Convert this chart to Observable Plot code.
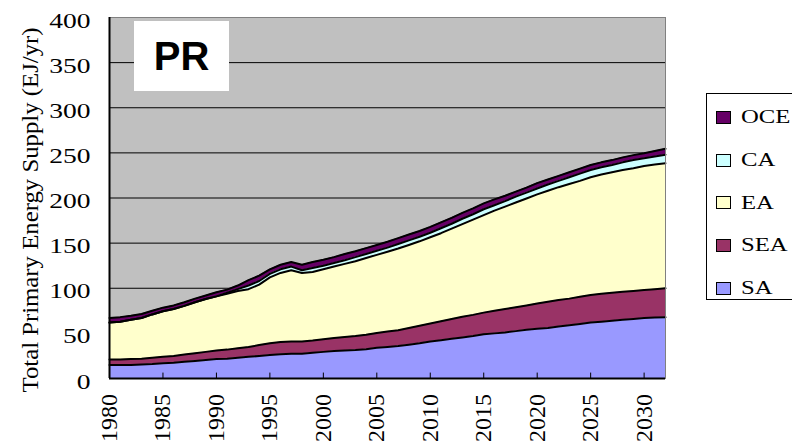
<!DOCTYPE html>
<!-- Total primary energy supply, PR scenario, revision 9 -->
<html lang="en"><head><meta charset="utf-8"><title>PR energy supply r9</title>
<script src="https://cdn.jsdelivr.net/npm/d3@7"></script>
<script src="https://cdn.jsdelivr.net/npm/@observablehq/plot@0.6"></script>
<style>
body{margin:0;padding:0;background:#fff;overflow:hidden;}
#chart9{position:relative;width:792px;height:448px;overflow:hidden;}
#chart9 svg{position:absolute;left:0;top:0;}
.tag9{position:absolute;left:134px;top:21px;width:95px;height:70px;background:#fff;font:bold 40px "Liberation Sans",Arial,sans-serif;display:flex;align-items:center;justify-content:center;color:#000;}
.legend9{position:absolute;left:706px;top:93px;width:140px;height:207px;border:1px solid #000;background:#fff;box-sizing:border-box;padding-top:2px;}
.item9{height:42.7px;display:flex;align-items:center;}
.sw9{width:13px;height:11px;border:1px solid #000;margin-left:9px;flex:none;}
.lt9{margin-left:10px;font:19px "Liberation Serif","Times New Roman",serif;display:inline-block;transform:scaleX(1.3);transform-origin:left center;color:#000;}
</style>
</head><body>
<div id="chart9"></div>
<script>
const yearList = [1980,1981,1982,1983,1984,1985,1986,1987,1988,1989,
  1990,1991,1992,1993,1994,1995,1996,1997,1998,1999,
  2000,2001,2002,2003,2004,2005,2006,2007,2008,2009,
  2010,2011,2012,2013,2014,2015,2016,2017,2018,2019,
  2020,2021,2022,2023,2024,2025,2026,2027,2028,2029,
  2030,2031,2032];
const regionNames = ["SA","SEA","EA","CA","OCE"];
const legendOrder = ["OCE","CA","EA","SEA","SA"];
const regionColors = ["#9999FF","#993366","#FFFFCC","#CCFFFF","#660066"];
const valuesSA = [15,15,15,15.5,16,17,17.5,18.5,19.5,20.5,
  21.5,22,23,24,25,26,27,27.5,27.5,28.5,
  29.5,30.5,31,31.5,32.5,34,35,36,37.5,39,
  41,42.5,44,45.5,47,49,50,51,52.5,54,
  55,56,57.5,59,60.5,62,63,64,65,66,
  67,67.5,68];
const valuesSEA = [6,6,6.5,6.5,7,7,7.5,8,8.5,9,
  9.5,10,10.5,11,12,13,13.5,13.5,13.5,13.5,
  14,14.5,15,15.5,16,16.5,17,17.5,18.5,19.5,
  20,21,22,23,23.5,24,25,26,26.5,27,
  28,29,29.5,29.5,30,30.5,31,31,31,31,
  31,31.5,32];
const valuesEA = [41,42,43.5,45,48,50.5,52,54,56.5,58.5,
  60,62,63.5,64,67,73,76.5,79,76,76,
  77.5,79,81,83,85,86.5,88.5,90.5,92,93.5,
  95.5,97.5,100,102.5,105.5,108,111,113.5,116,118.5,
  121,123,125,127,128.5,130.5,132,133.5,135,136,
  137.5,138,138.5];
const valuesCA = [0,0,0,0,0,0,0,0,0,0,
  0,1,2,4,4,4,4,4,3,4.5,
  4,4,4,4.5,4.5,4.5,4.5,5,5,5,
  5,5.5,5.5,6,6,6.5,6,6,6.5,6.5,
  6.5,7,7,7.5,8,8,8,8,8.5,9,
  8.5,9,9.5];
const valuesOCE = [5,5,4.5,4.5,4,4,4,4,4,4,
  4.5,3.5,4,6,6,5,5,5,6,6.5,
  6.5,6.5,7,6.5,6.5,6.5,6.5,6.5,6.5,6.5,
  6.5,6.5,6.5,6.5,6.5,6.5,6.5,6,5.5,5.5,
  6,5.5,5.5,5.5,5.5,5.5,5.5,5.5,5.5,5.5,
  5.5,6,6.5];
const xTickYears = [1980,1985,1990,1995,2000,2005,2010,2015,2020,2025,2030];
const yTickValues = [0,50,100,150,200,250,300,350,400];
const yTitleText = "Total Primary Energy Supply (EJ/yr)";
const tagLabel = "PR";

const allSeries = [valuesSA, valuesSEA, valuesEA, valuesCA, valuesOCE];
const rows = [];
regionNames.forEach((r, i) => yearList.forEach((y, j) => rows.push({year: y, region: r, value: allSeries[i][j]})));

const serifFont = "'Liberation Serif','Times New Roman',serif";
const svgChart = Plot.plot({
  width: 792, height: 448,
  marginLeft: 109, marginRight: 127, marginTop: 17, marginBottom: 70,
  style: {background: "transparent", fontFamily: serifFont},
  x: {domain: [1980, 2032], axis: null},
  y: {domain: [0, 400], axis: null},
  color: {domain: regionNames, range: regionColors},
  marks: [
    Plot.frame({fill: "#C0C0C0"}),
    Plot.gridY(yTickValues, {stroke: "#000", strokeOpacity: 1, strokeWidth: 1}),
    Plot.areaY(rows, {x: "year", y: "value", fill: "region", z: "region", order: regionNames}),
    Plot.lineY(rows, Plot.stackY2({x: "year", y: "value", z: "region", order: regionNames, stroke: "#000", strokeWidth: 2})),
    Plot.ruleX(xTickYears, {y1: 0, y2: 6, stroke: "#000"}),
    Plot.frame({stroke: "#808080"}),
    Plot.ruleY([0], {stroke: "#000", strokeWidth: 2}),
    Plot.ruleX([1980], {stroke: "#000", strokeWidth: 2}),
    Plot.text(yTickValues, {y: d => d, frameAnchor: "left", textAnchor: "end", dx: -19, dy: 3, fontSize: 22, fill: "#000", text: d => String(d)})
  ]
});

const host = document.getElementById("chart9");
host.appendChild(svgChart);
const sel = d3.select(svgChart);

const yLabelStrings = new Set(yTickValues.map(String));
sel.selectAll("text").each(function() {
  if (yLabelStrings.has(this.textContent)) {
    const w = this.getComputedTextLength();
    this.setAttribute("textLength", (w * 1.25).toFixed(1));
    this.setAttribute("lengthAdjust", "spacingAndGlyphs");
  }
});

// x tick labels: vertical, reading upward, placed with Plot's own x scale
const xScale = svgChart.scale("x");
const yScale = svgChart.scale("y");
const axisBottom = yScale.apply(0);
const xLabelGroup = sel.append("g")
  .attr("font-family", serifFont)
  .attr("font-size", 24)
  .attr("fill", "#000")
  .attr("text-anchor", "end");
xTickYears.forEach(yr => {
  xLabelGroup.append("text")
    .attr("transform", `translate(${xScale.apply(yr)},${axisBottom + 16}) rotate(-90)`)
    .attr("dy", "0.33em")
    .text(String(yr));
});

sel.append("text")
  .attr("transform", "translate(30,210) rotate(-90)")
  .attr("text-anchor", "middle")
  .attr("dy", "0.35em")
  .attr("font-family", serifFont)
  .attr("font-size", 24)
  .attr("textLength", 365)
  .attr("lengthAdjust", "spacingAndGlyphs")
  .attr("fill", "#000")
  .text(yTitleText);

const tagDiv = document.createElement("div");
tagDiv.className = "tag9";
tagDiv.textContent = tagLabel;
host.appendChild(tagDiv);

const legendDiv = document.createElement("div");
legendDiv.className = "legend9";
legendOrder.forEach(r => {
  const it = document.createElement("div");
  it.className = "item9";
  const sw = document.createElement("span");
  sw.className = "sw9";
  sw.style.background = regionColors[regionNames.indexOf(r)];
  const lt = document.createElement("span");
  lt.className = "lt9";
  lt.textContent = r;
  it.appendChild(sw); it.appendChild(lt);
  legendDiv.appendChild(it);
});
host.appendChild(legendDiv);
</script>
</body></html>
